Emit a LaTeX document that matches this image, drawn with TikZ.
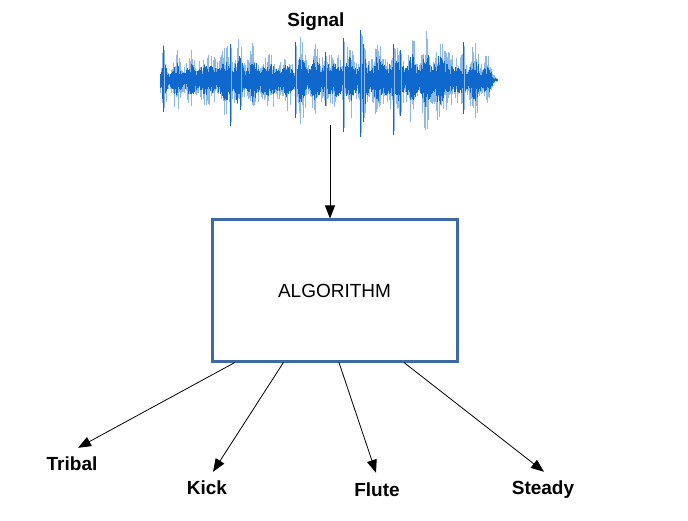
\documentclass[tikz,border=0pt]{standalone}
\usepackage{fontspec}
\setmainfont{Liberation Sans}
\usetikzlibrary{arrows.meta,calc}
\definecolor{waveblue}{HTML}{0F68CD}
\definecolor{wavelight}{HTML}{8DB8E8}
\definecolor{boxblue}{HTML}{3C6AA4}

\begin{document}
\begin{tikzpicture}[x = 1pt, y = -1pt,
  lbl/.style = {font=\fontsize{19}{19}\selectfont\bfseries, inner sep=0pt, text height=14pt, text depth=4pt},
  algobox/.style = {draw=boxblue, line width=3pt, minimum width=245pt, minimum height=141pt, font=\fontsize{19}{19}\selectfont},
  arr/.style = {-{Triangle[length=13pt, width=10pt]}, line width=0.8pt}]
\useasboundingbox (0,0) rectangle (688,521);

% waveform: light halo first, then dark core
\pgfmathsetseed{42}
\foreach \col/\lo/\hi/\p in {wavelight/0.8/1.4/2, waveblue/0.45/0.8/1}{
  \foreach \xa/\ea/\xb/\eb in {160/4/163/18, 163/18/168/12, 168/12/215/14, 215/14/232/18, 232/18/290/13, 290/13/300/18, 300/18/335/15, 335/15/360/20, 360/20/392/17, 392/17/440/22, 440/22/458/12, 458/12/480/18, 480/18/497/1}{
    \pgfmathtruncatemacro\n{(\xb-\xa)/0.6}
    \foreach \i in {0,...,\n}{
      \pgfmathsetmacro\x{\xa+\i*0.6}
      \pgfmathsetmacro\e{(\ea+(\eb-\ea)*\i*0.6/(\xb-\xa))*(0.8+0.2*sin(\x*23)+0.15*sin(\x*29))}
      \pgfmathsetmacro\up{\e*(\lo+\hi*rnd^\p)}
      \pgfmathsetmacro\dn{\e*(\lo+\hi*rnd^\p)}
      \draw[\col, line width=0.6pt] (\x,80-\up) -- (\x,80+\dn);
    }
  }
}
% spikes
\foreach \x/\up/\dn in {163/34/32, 230/36/46, 240/22/30, 295/38/38, 325/28/26, 343/42/52, 360/50/57, 363/36/42, 393/36/55, 400/30/36, 463/38/34}{
  \draw[wavelight, line width=0.8pt] (\x+1.5,80-\up+4) -- (\x+1.5,80+\dn-4);
  \draw[waveblue, line width=0.8pt] (\x,80-\up) -- (\x,80+\dn);
}
\coordinate (sig) at (330,125);

\node[lbl] (signal) at (316,22) {Signal};
\node[algobox] (algo) at (334.5,290.5) {ALGORITHM};
\node[lbl] (tribal) at (72,465) {Tribal};
\node[lbl] (kick) at (207,489) {Kick};
\node[lbl] (flute) at (377,491) {Flute};
\node[lbl] (steady) at (543,489) {Steady};

\draw[arr] (sig) -- (sig |- algo.north);
\draw[arr] ($(algo.south west)!0.098!(algo.south east)$) -- ([xshift=6pt, yshift=8pt]tribal.north);
\draw[arr] ($(algo.south west)!0.294!(algo.south east)$) -- ([xshift=6pt, yshift=8pt]kick.north);
\draw[arr] ($(algo.south west)!0.518!(algo.south east)$) -- ([xshift=-1pt, yshift=9pt]flute.north);
\draw[arr] ($(algo.south west)!0.78!(algo.south east)$) -- ([xshift=1pt, yshift=8pt]steady.north);
\end{tikzpicture}
\end{document}
